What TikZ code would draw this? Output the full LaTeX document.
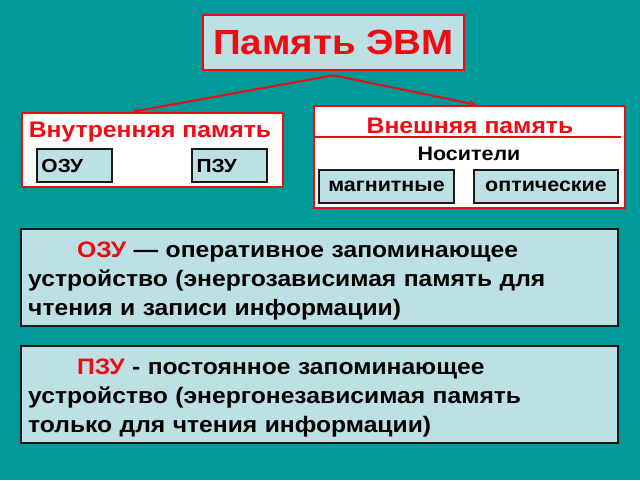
\documentclass[tikz,border=0pt]{standalone}
\usepackage{fontspec}
\setmainfont[FakeStretch=1.1]{Liberation Sans}
\usetikzlibrary{arrows, positioning}
\definecolor{seateal}{HTML}{009999}
\definecolor{paleblue}{HTML}{BCE0E4}
\definecolor{memred}{HTML}{F00A14}
\definecolor{darkedge}{HTML}{1A1A1A}

\begin{document}
\begin{tikzpicture}[x=1pt, y=-1pt, font=\bfseries]
% Define styles
\tikzstyle{titlebox} = [rectangle, minimum width=261pt, minimum height=55pt, text centered, draw=memred, fill=paleblue, line width=2.5pt, text=memred, font=\bfseries\fontsize{35}{40}\selectfont]
\tikzstyle{group} = [rectangle, draw=memred, fill=white, line width=2.5pt, inner sep=0pt]
\tikzstyle{grouptitle} = [text=memred, font=\bfseries\fontsize{22.5}{26}\selectfont]
\tikzstyle{unit} = [rectangle, minimum height=33pt, draw=darkedge, fill=paleblue, line width=1.8pt, font=\bfseries\fontsize{19.5}{22}\selectfont, inner sep=3pt]
\tikzstyle{note} = [rectangle, minimum width=597pt, minimum height=97pt, draw=darkedge, fill=paleblue, line width=1.8pt]
\tikzstyle{notetext} = [anchor=north west, text width=585pt, align=left, inner sep=0pt, font=\bfseries\fontsize{22.4}{29}\selectfont]
\tikzstyle{arrow} = [memred, line width=2pt, -stealth]

% Background
\fill[seateal] (0,0) rectangle (640,480);

% Nodes
\node (memory) [titlebox] at (333.5,42.5) {Память ЭВМ};
\coordinate (apex) at ([yshift=-4pt]memory.south);

\node (inner) [group, minimum width=261pt, minimum height=74pt] at (152.5,150) {};
\node (innertitle) [grouptitle] at (150,132) {Внутренняя память};
\node (ram) [unit, minimum width=75pt, text width=66pt, align=left, font=\bfseries\fontsize{19}{22}\selectfont] at (74.5,165.5) {ОЗУ};
\node (rom) [unit, minimum width=75pt, text width=66pt, align=left, font=\bfseries\fontsize{19}{22}\selectfont] at (229.5,165.5) {ПЗУ};

\node (outer) [group, minimum width=311pt, minimum height=102pt] at (469.5,157) {};
\node (outertitle) [grouptitle] at (470,126) {Внешняя память};
\coordinate (rulel) at ([yshift=-32pt]outer.north west);
\coordinate (ruler) at ([yshift=-32pt,xshift=-5pt]outer.north east);
\node (media) [font=\bfseries\fontsize{19.5}{22}\selectfont] at (469,154) {Носители};
\node (magnetic) [unit, minimum width=135pt] at (386.5,186.5) {магнитные};
\node (optical) [unit, minimum width=144pt] at (546,186.5) {оптические};

\node (ramnote) [note] at (319.5,277.5) {};
\node (ramtext) [notetext] at (28,242) {\hspace*{49pt}{\color{memred}ОЗУ} — оперативное запоминающее\\устройство (энергозависимая память для\\чтения и записи информации)};
\node (romnote) [note] at (319.5,394.5) {};
\node (romtext) [notetext] at (28,359) {\hspace*{49pt}{\color{memred}ПЗУ} - постоянное запоминающее\\устройство (энергонезависимая память\\только для чтения информации)};

% Arrows
\draw[memred, line width=2pt] (rulel) -- (ruler);
\draw[arrow] (apex) -- ([xshift=-20pt]inner.north);
\draw[arrow] (apex) -- ([xshift=6.5pt]outer.north);
\end{tikzpicture}
\end{document}
